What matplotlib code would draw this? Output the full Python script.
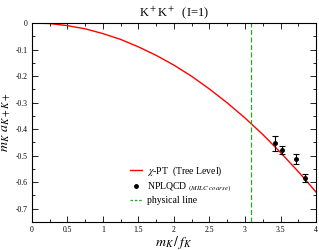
import matplotlib
matplotlib.use("Agg")
import matplotlib.pyplot as plt
from matplotlib.lines import Line2D
from matplotlib.ticker import MultipleLocator, FixedFormatter, FixedLocator

plt.rcParams["font.family"] = ["Liberation Serif", "DejaVu Serif"]
plt.rcParams["mathtext.fontset"] = "stix"

# ── data ────────────────────────────────────────────────────────────────────
# chi-PT tree level curve
chpt_x = [0.0, 0.25, 0.5, 0.75, 1.0, 1.25, 1.5, 1.75, 2.0,
          2.25, 2.5, 2.75, 3.0, 3.25, 3.5, 3.75, 4.0]
chpt_y = [0.0, -0.002, -0.010, -0.022, -0.040, -0.062, -0.090, -0.122, -0.159,
          -0.201, -0.249, -0.301, -0.358, -0.420, -0.488, -0.560, -0.637]

# NPLQCD (MILC coarse) points
lat_x = [3.42, 3.525, 3.72, 3.845]
lat_y = [-0.453, -0.479, -0.513, -0.583]
lat_err = [0.028, 0.015, 0.019, 0.015]

phys_x = 3.09

x_ticks = [0, 0.5, 1, 1.5, 2, 2.5, 3, 3.5, 4]
x_tick_labels = ["0", "0.5", "1", "1.5", "2", "2.5", "3", "3.5", "4"]
y_ticks = [0, -0.1, -0.2, -0.3, -0.4, -0.5, -0.6, -0.7]
y_tick_labels = ["0", "-0.1", "-0.2", "-0.3", "-0.4", "-0.5", "-0.6", "-0.7"]

green = "#22aa22"

# ── figure ──────────────────────────────────────────────────────────────────
fig = plt.figure(figsize=(3.19, 2.5), dpi=100)
ax = fig.add_axes([0.1003, 0.112, 0.8903, 0.796])

ax.plot(chpt_x, chpt_y, color="red", lw=1.0)
ax.errorbar(lat_x, lat_y, yerr=lat_err, fmt="o", color="black", ms=2.5,
            elinewidth=0.8, capsize=2.5, capthick=0.8)
ax.axvline(phys_x, color=green, ls=(0, (4, 2)), lw=0.9)

ax.set_xlim(0, 4)
ax.set_ylim(-0.75, 0)

ax.xaxis.set_major_locator(FixedLocator(x_ticks))
ax.xaxis.set_major_formatter(FixedFormatter(x_tick_labels))
ax.xaxis.set_minor_locator(MultipleLocator(0.25))
ax.yaxis.set_major_locator(FixedLocator(y_ticks))
ax.yaxis.set_major_formatter(FixedFormatter(y_tick_labels))
ax.yaxis.set_minor_locator(MultipleLocator(0.05))
ax.tick_params(which="both", direction="in", top=True, right=True,
               labelsize=5.5, width=0.6, pad=3)
ax.tick_params(which="major", length=4)
ax.tick_params(which="minor", length=2)
for spine in ax.spines.values():
    spine.set_linewidth(0.8)

ax.set_title(r"K$^+$K$^+$  (I=1)", fontsize=9, pad=5)
ax.set_xlabel(r"$m_K\,/\,f_K$", fontsize=10, labelpad=0)
ax.set_ylabel(r"$m_K\ a_{K+K+}$", fontsize=10, labelpad=2)

handles = [
    Line2D([], [], color="red", lw=1.0),
    Line2D([], [], color="black", marker="o", ms=2.5, ls="none"),
    Line2D([], [], color=green, ls=(0, (2, 1.5)), lw=0.9),
]
labels = [r"$\chi$-PT  (Tree Level)",
          r"NPLQCD $_{\mathit{(MILC\ coarse)}}$",
          "physical line"]
ax.legend(handles, labels, loc="lower left", bbox_to_anchor=(0.33, 0.065),
          frameon=False, fontsize=7, handlelength=1.3, handletextpad=0.5,
          labelspacing=0.25, borderaxespad=0)

fig.savefig("out.png", dpi=100)
